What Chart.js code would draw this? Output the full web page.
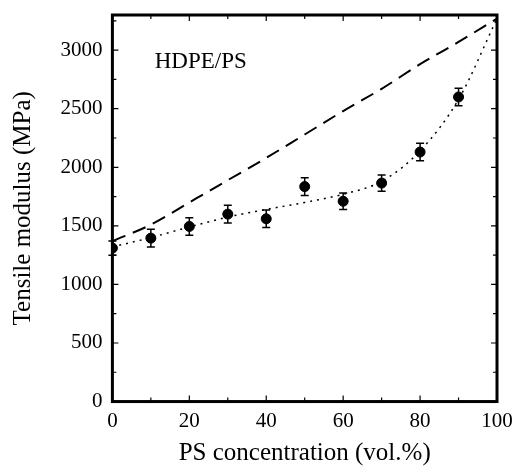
<!DOCTYPE html>
<html lang="en">
<head>
    <meta charset="UTF-8">
    <title>HDPE/PS Tensile Modulus</title>
    <script src="https://cdn.jsdelivr.net/npm/chart.js"></script>
    <style>
        body { margin: 0; background: #fff; }
        #wrap { width: 518px; height: 467px; }
    </style>
</head>
<body>
    <div id="wrap"><canvas id="modulusChart"></canvas></div>
    <script>
        // values
        const psConcentration = [0, 10, 20, 30, 40, 50, 60, 70, 80, 90];
        const measuredModulus = [1310, 1395, 1495, 1600, 1560, 1835, 1710, 1865, 2130, 2600];
        const modulusError = [60, 75, 75, 75, 75, 75, 70, 70, 75, 75];

        const curveConcentration = [0, 10, 20, 30, 40, 50, 60, 70, 80, 90, 100];
        const upperBoundModulus = [1370, 1510, 1700, 1890, 2080, 2280, 2480, 2670, 2880, 3070, 3270];
        const fittedModulus = [1320, 1400, 1490, 1575, 1640, 1700, 1770, 1880, 2140, 2580, 3270];

        const xTicks = [0, 20, 40, 60, 80, 100];
        const yTicks = [0, 500, 1000, 1500, 2000, 2500, 3000];
        const xMinorStep = 10;
        const yMinorStep = 250;

        const serif = "'Liberation Serif', 'DejaVu Serif', serif";

        // error bars, frame, inward ticks and the label inside the plot
        const decorations = {
            id: 'decorations',
            afterDatasetsDraw(chart) {
                const ctx = chart.ctx;
                const xs = chart.scales.x;
                const ys = chart.scales.y;
                const area = chart.chartArea;

                ctx.save();
                ctx.strokeStyle = '#000';
                ctx.lineWidth = 1.5;
                psConcentration.forEach((c, i) => {
                    const px = xs.getPixelForValue(c);
                    const top = ys.getPixelForValue(measuredModulus[i] + modulusError[i]);
                    const bot = ys.getPixelForValue(measuredModulus[i] - modulusError[i]);
                    ctx.beginPath();
                    ctx.moveTo(px, top); ctx.lineTo(px, bot);
                    ctx.moveTo(px - 4, top); ctx.lineTo(px + 4, top);
                    ctx.moveTo(px - 4, bot); ctx.lineTo(px + 4, bot);
                    ctx.stroke();
                });

                ctx.lineWidth = 1.2;
                for (let v = xs.min; v <= xs.max; v += xMinorStep) {
                    const px = xs.getPixelForValue(v);
                    const len = xTicks.includes(v) ? 6 : 4;
                    ctx.beginPath();
                    ctx.moveTo(px, area.bottom); ctx.lineTo(px, area.bottom - len);
                    ctx.moveTo(px, area.top); ctx.lineTo(px, area.top + len);
                    ctx.stroke();
                }
                for (let v = 0; v <= ys.max; v += yMinorStep) {
                    const py = ys.getPixelForValue(v);
                    const len = yTicks.includes(v) ? 6 : 4;
                    ctx.beginPath();
                    ctx.moveTo(area.left, py); ctx.lineTo(area.left + len, py);
                    ctx.moveTo(area.right, py); ctx.lineTo(area.right - len, py);
                    ctx.stroke();
                }

                ctx.lineWidth = 3;
                ctx.strokeRect(area.left, area.top, area.right - area.left, area.bottom - area.top);

                ctx.fillStyle = '#000';
                ctx.font = '23px ' + serif;
                ctx.textBaseline = 'middle';
                ctx.fillText('HDPE/PS', xs.getPixelForValue(11), ys.getPixelForValue(2900));
                ctx.restore();
            }
        };

        const ctx = document.getElementById('modulusChart').getContext('2d');
        new Chart(ctx, {
            type: 'scatter',
            data: {
                datasets: [
                    {
                        label: 'Measured',
                        data: psConcentration.map((c, i) => ({ x: c, y: measuredModulus[i] })),
                        backgroundColor: '#000',
                        borderColor: '#000',
                        pointRadius: 5
                    },
                    {
                        label: 'Upper bound',
                        type: 'line',
                        data: curveConcentration.map((c, i) => ({ x: c, y: upperBoundModulus[i] })),
                        borderColor: '#000',
                        borderWidth: 2,
                        borderDash: [14, 8],
                        pointRadius: 0,
                        fill: false,
                        cubicInterpolationMode: 'monotone'
                    },
                    {
                        label: 'Fit',
                        type: 'line',
                        data: curveConcentration.map((c, i) => ({ x: c, y: fittedModulus[i] })),
                        borderColor: '#000',
                        borderWidth: 1.5,
                        borderDash: [2, 5],
                        pointRadius: 0,
                        fill: false,
                        cubicInterpolationMode: 'monotone'
                    }
                ]
            },
            options: {
                responsive: true,
                maintainAspectRatio: false,
                animation: false,
                layout: { padding: { left: 4, right: 21, top: 15, bottom: 0 } },
                plugins: {
                    legend: { display: false },
                    tooltip: { enabled: false }
                },
                scales: {
                    x: {
                        type: 'linear',
                        min: 0,
                        max: 100,
                        afterBuildTicks: (scale) => { scale.ticks = xTicks.map(v => ({ value: v })); },
                        afterFit: (scale) => { scale.paddingLeft = 0; scale.paddingRight = 0; },
                        grid: { display: false, drawTicks: false },
                        border: { display: false },
                        ticks: {
                            color: '#000', padding: 7, maxRotation: 0,
                            font: { family: serif, size: 21 },
                            callback: (v) => String(v)
                        },
                        title: {
                            display: true,
                            text: 'PS concentration (vol.%)',
                            color: '#000',
                            padding: { top: 0, bottom: 0 },
                            font: { family: serif, size: 25, lineHeight: 1.05 }
                        }
                    },
                    y: {
                        min: 0,
                        max: 3300,
                        afterBuildTicks: (scale) => { scale.ticks = yTicks.map(v => ({ value: v })); },
                        afterFit: (scale) => { scale.paddingTop = 0; scale.paddingBottom = 0; },
                        grid: { display: false, drawTicks: false },
                        border: { display: false },
                        ticks: {
                            color: '#000', padding: 10,
                            font: { family: serif, size: 21 },
                            callback: (v) => String(v)
                        },
                        title: {
                            display: true,
                            text: 'Tensile modulus (MPa)',
                            color: '#000',
                            padding: { top: 4, bottom: 12.4 },
                            font: { family: serif, size: 25 }
                        }
                    }
                }
            },
            plugins: [decorations]
        });
    </script>
</body>
</html>
